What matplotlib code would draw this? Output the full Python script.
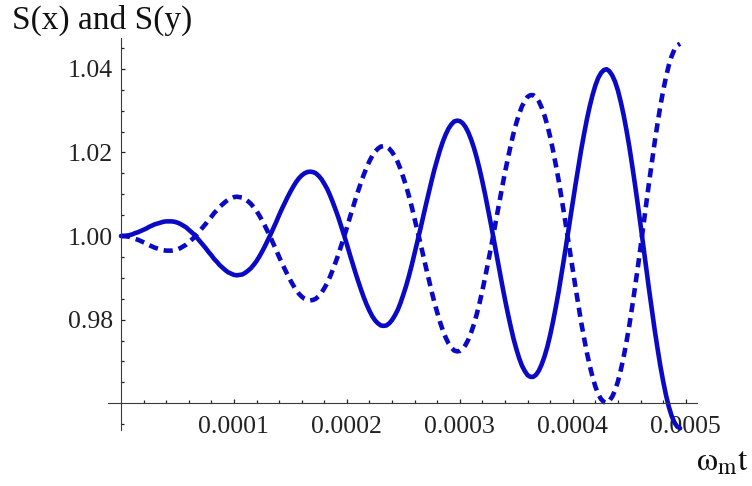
import numpy as np
import matplotlib
matplotlib.use("Agg")
import matplotlib.pyplot as plt
from matplotlib.ticker import FixedLocator, FuncFormatter

# Sample times (omega_m t), evenly spaced
t = np.linspace(0.0, 0.000495, 199)

# S(x): solid curve
s_x = [
    1.0000, 1.0000, 1.0001, 1.0002, 1.0004, 1.0007, 1.0009, 1.0012, 1.0015, 1.0018,
    1.0022, 1.0025, 1.0028, 1.0030, 1.0032, 1.0034, 1.0035, 1.0035, 1.0035, 1.0034,
    1.0032, 1.0029, 1.0025, 1.0021, 1.0015, 1.0009, 1.0003, 0.9995, 0.9987, 0.9979,
    0.9971, 0.9962, 0.9954, 0.9945, 0.9938, 0.9930, 0.9924, 0.9918, 0.9913, 0.9910,
    0.9907, 0.9906, 0.9907, 0.9908, 0.9912, 0.9917, 0.9923, 0.9931, 0.9940, 0.9951,
    0.9963, 0.9976, 0.9990, 1.0004, 1.0019, 1.0034, 1.0050, 1.0065, 1.0079, 1.0093,
    1.0106, 1.0118, 1.0129, 1.0138, 1.0145, 1.0150, 1.0153, 1.0154, 1.0153, 1.0150,
    1.0144, 1.0136, 1.0125, 1.0113, 1.0098, 1.0081, 1.0063, 1.0044, 1.0023, 1.0002,
    0.9980, 0.9957, 0.9935, 0.9913, 0.9892, 0.9872, 0.9853, 0.9836, 0.9821, 0.9808,
    0.9798, 0.9791, 0.9786, 0.9785, 0.9786, 0.9791, 0.9799, 0.9810, 0.9823, 0.9840,
    0.9860, 0.9881, 0.9905, 0.9931, 0.9959, 0.9987, 1.0016, 1.0046, 1.0075, 1.0104,
    1.0132, 1.0159, 1.0183, 1.0206, 1.0226, 1.0243, 1.0257, 1.0267, 1.0274, 1.0276,
    1.0275, 1.0270, 1.0261, 1.0248, 1.0231, 1.0211, 1.0187, 1.0160, 1.0130, 1.0098,
    1.0064, 1.0029, 0.9993, 0.9956, 0.9919, 0.9883, 0.9848, 0.9815, 0.9784, 0.9755,
    0.9730, 0.9708, 0.9690, 0.9677, 0.9667, 0.9663, 0.9663, 0.9668, 0.9678, 0.9693,
    0.9712, 0.9735, 0.9763, 0.9795, 0.9830, 0.9867, 0.9908, 0.9950, 0.9993, 1.0037,
    1.0081, 1.0124, 1.0166, 1.0207, 1.0244, 1.0279, 1.0310, 1.0337, 1.0360, 1.0378,
    1.0390, 1.0397, 1.0399, 1.0394, 1.0384, 1.0369, 1.0348, 1.0321, 1.0290, 1.0254,
    1.0215, 1.0171, 1.0125, 1.0077, 1.0027, 0.9975, 0.9924, 0.9873, 0.9824, 0.9776,
    0.9732, 0.9690, 0.9653, 0.9620, 0.9592, 0.9570, 0.9554, 0.9544, 0.9540,
]

# S(y): dashed curve
s_y = [
    1.0000, 1.0000, 0.9999, 0.9998, 0.9996, 0.9993, 0.9991, 0.9988, 0.9985, 0.9982,
    0.9978, 0.9975, 0.9972, 0.9970, 0.9968, 0.9966, 0.9965, 0.9965, 0.9965, 0.9966,
    0.9968, 0.9971, 0.9975, 0.9979, 0.9985, 0.9991, 0.9997, 1.0005, 1.0013, 1.0021,
    1.0029, 1.0038, 1.0046, 1.0055, 1.0062, 1.0070, 1.0076, 1.0082, 1.0087, 1.0090,
    1.0093, 1.0094, 1.0093, 1.0092, 1.0088, 1.0083, 1.0077, 1.0069, 1.0060, 1.0049,
    1.0037, 1.0024, 1.0010, 0.9996, 0.9981, 0.9966, 0.9950, 0.9935, 0.9921, 0.9907,
    0.9894, 0.9882, 0.9871, 0.9862, 0.9855, 0.9850, 0.9847, 0.9846, 0.9847, 0.9850,
    0.9856, 0.9864, 0.9875, 0.9887, 0.9902, 0.9919, 0.9937, 0.9956, 0.9977, 0.9998,
    1.0020, 1.0043, 1.0065, 1.0087, 1.0108, 1.0128, 1.0147, 1.0164, 1.0179, 1.0192,
    1.0202, 1.0209, 1.0214, 1.0215, 1.0214, 1.0209, 1.0201, 1.0190, 1.0177, 1.0160,
    1.0140, 1.0119, 1.0095, 1.0069, 1.0041, 1.0013, 0.9984, 0.9954, 0.9925, 0.9896,
    0.9868, 0.9841, 0.9817, 0.9794, 0.9774, 0.9757, 0.9743, 0.9733, 0.9726, 0.9724,
    0.9725, 0.9730, 0.9739, 0.9752, 0.9769, 0.9789, 0.9813, 0.9840, 0.9870, 0.9902,
    0.9936, 0.9971, 1.0007, 1.0044, 1.0081, 1.0117, 1.0152, 1.0185, 1.0216, 1.0245,
    1.0270, 1.0292, 1.0310, 1.0323, 1.0333, 1.0337, 1.0337, 1.0332, 1.0322, 1.0307,
    1.0288, 1.0265, 1.0237, 1.0205, 1.0170, 1.0133, 1.0092, 1.0050, 1.0007, 0.9963,
    0.9919, 0.9876, 0.9834, 0.9793, 0.9756, 0.9721, 0.9690, 0.9663, 0.9640, 0.9622,
    0.9610, 0.9603, 0.9601, 0.9606, 0.9616, 0.9631, 0.9652, 0.9679, 0.9710, 0.9746,
    0.9785, 0.9829, 0.9875, 0.9923, 0.9973, 1.0025, 1.0076, 1.0127, 1.0176, 1.0224,
    1.0268, 1.0310, 1.0347, 1.0380, 1.0408, 1.0430, 1.0446, 1.0456, 1.0460,
]

x_major = [0.0001, 0.0002, 0.0003, 0.0004, 0.0005]
x_minor = [0.00002, 0.00004, 0.00006, 0.00008, 0.00012, 0.00014, 0.00016, 0.00018,
           0.00022, 0.00024, 0.00026, 0.00028, 0.00032, 0.00034, 0.00036, 0.00038,
           0.00042, 0.00044, 0.00046, 0.00048]
y_major = [0.98, 1.00, 1.02, 1.04]
y_minor = [0.955, 0.965, 0.97, 0.975, 0.985, 0.99, 0.995, 1.005, 1.01, 1.015,
           1.025, 1.03, 1.035, 1.045]

W, H = 752, 486
fig = plt.figure(figsize=(W / 100, H / 100), dpi=100)
ax = fig.add_axes([108 / W, 1 - 430 / H, (697 - 108) / W, (430 - 38) / H])

blue = "#0a0ac6"
ax.plot(t, s_x, color=blue, lw=3.3, solid_capstyle="round",
        solid_joinstyle="round", clip_on=False)
ax.plot(t, s_y, color=blue, lw=3.3, linestyle=(0, (2.0, 1.3)),
        dash_capstyle="butt", dash_joinstyle="round", clip_on=False)

ax.set_xlim(-0.0000115, 0.000510)
ax.set_ylim(0.95359, 1.04737)

for side in ("top", "right"):
    ax.spines[side].set_visible(False)
ax.spines["left"].set_position(("data", 0.0))
ax.spines["bottom"].set_position(("data", 0.96))
for side in ("left", "bottom"):
    ax.spines[side].set_color("#3a3a3a")
    ax.spines[side].set_linewidth(0.8)

ax.xaxis.set_major_locator(FixedLocator(x_major))
ax.xaxis.set_minor_locator(FixedLocator(x_minor))
ax.yaxis.set_major_locator(FixedLocator(y_major))
ax.yaxis.set_minor_locator(FixedLocator(y_minor))
ax.xaxis.set_major_formatter(FuncFormatter(lambda v, p: f"{v:.4f}"))
ax.yaxis.set_major_formatter(FuncFormatter(lambda v, p: f"{v:.2f}"))

ax.tick_params(which="both", direction="in", color="#222222", width=0.9)
ax.tick_params(which="major", length=3.0)
ax.tick_params(which="minor", length=2.0)
ax.tick_params(axis="y", which="major", pad=5.8)
ax.tick_params(axis="x", which="major", pad=9.5)
for lab in ax.get_xticklabels() + ax.get_yticklabels():
    lab.set_fontfamily("Liberation Serif")
    lab.set_fontsize(18.5)
    lab.set_color("#222222")

plt.rcParams["mathtext.fontset"] = "stix"
fig.text(12 / W, 1 - 29 / H, "S(x) and S(y)", family="Liberation Serif",
         fontsize=24, ha="left", va="baseline", color="#111111")
fig.text(748 / W, 1 - 470 / H, r"$\mathrm{\omega}_{\mathrm{m}}\mathrm{t}$",
         fontsize=24, ha="right", va="baseline", color="#111111")

fig.savefig("out.png", dpi=100)
